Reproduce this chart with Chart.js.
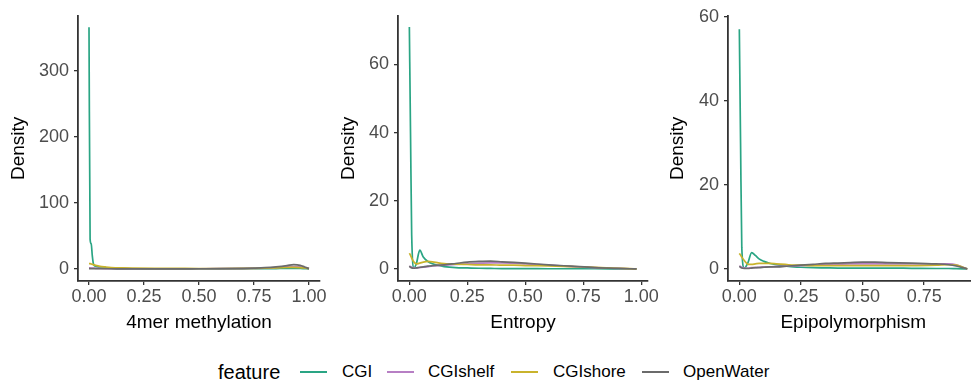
<!DOCTYPE html>
<html>
<head>
<meta charset="utf-8">
<script src="https://cdn.jsdelivr.net/npm/chart.js@4.4.1/dist/chart.umd.min.js"></script>
<style>
  html, body { margin: 0; padding: 0; background: #fff; width: 971px; height: 385px; overflow: hidden; position: relative; font-family: "Liberation Sans", Arial, sans-serif; }
  canvas { position: absolute; top: 0; }
  .lg { position: absolute; white-space: nowrap; color: #000; }
  .key { position: absolute; height: 2px; }
</style>
</head>
<body>
<canvas id="c1" width="330" height="340" style="left:0px"></canvas>
<canvas id="c2" width="330" height="340" style="left:330px"></canvas>
<canvas id="c3" width="340" height="340" style="left:650px"></canvas>
<div id="legend"></div>
<script>
// ---------- data ----------
const featureNames = ['CGI', 'CGIshelf', 'CGIshore', 'OpenWater'];
const featureColors = ['#2aa584', '#b77fc4', '#c9b32c', '#6b6b6b'];
const legendTitle = 'feature';

// Panel 1: 4mer methylation
const methX     = [0,0.005,0.01,0.015,0.02,0.03,0.05,0.075,0.1,0.15,0.2,0.3,0.4,0.5,0.6,0.7,0.75,0.8,0.85,0.9,0.93,0.96,0.98,1.0];
const methCGI   = [366,45,38,20,8,4,2.5,1.5,1,0.5,0.3,0.2,0.1,0.1,0.1,0.2,0.3,0.4,0.6,0.8,0.9,0.8,0.5,0.2];
const methShelf = [1.5,1.5,1.4,1.3,1.2,1.0,0.8,0.6,0.5,0.4,0.3,0.3,0.3,0.3,0.4,0.6,0.9,1.3,2.0,3.0,3.5,3.2,2.2,0.8];
const methShore = [8,8,7.5,7,6.5,5.5,4,3,2.2,1.5,1.2,0.9,0.8,0.7,0.7,0.8,1.0,1.3,1.7,2.2,2.4,2.0,1.4,0.5];
const methOW    = [0.5,0.5,0.5,0.5,0.5,0.4,0.3,0.3,0.3,0.2,0.2,0.2,0.2,0.3,0.4,0.8,1.3,2.0,3.2,5.0,6.5,5.5,3.0,0.5];

// Panel 2: Entropy
const entX     = [0,0.005,0.01,0.02,0.03,0.045,0.06,0.08,0.1,0.125,0.15,0.2,0.25,0.3,0.35,0.4,0.45,0.5,0.6,0.7,0.8,0.9,0.95,0.98];
const entCGI   = [71,40,10,0.3,1.5,5.5,3.5,2.2,1.5,1.0,0.7,0.4,0.3,0.2,0.15,0.1,0.1,0.1,0.05,0.05,0.05,0.02,0.01,0];
const entShelf = [0.8,0.7,0.5,0.3,0.3,0.4,0.5,0.7,0.9,1.0,1.1,1.3,1.5,1.7,1.8,1.8,1.7,1.5,1.1,0.7,0.4,0.15,0.05,0];
const entShore = [4.6,4.0,3.2,2.0,1.5,1.7,2.0,2.2,2.1,1.8,1.6,1.4,1.3,1.2,1.2,1.1,1.1,1.0,0.9,0.7,0.5,0.2,0.1,0];
const entOW    = [0.8,0.5,0.3,0.2,0.3,0.5,0.6,0.8,1.0,1.1,1.2,1.6,2.0,2.2,2.3,2.1,1.9,1.7,1.2,0.8,0.4,0.15,0.05,0];

// Panel 3: Epipolymorphism
const epiX     = [0,0.005,0.01,0.02,0.035,0.05,0.065,0.08,0.1,0.125,0.15,0.2,0.25,0.3,0.35,0.4,0.45,0.5,0.55,0.6,0.7,0.8,0.85,0.88,0.925];
const epiCGI   = [57,30,5,0.2,1.5,3.9,3.2,2.4,1.8,1.3,1.0,0.6,0.4,0.3,0.25,0.2,0.2,0.2,0.2,0.2,0.15,0.1,0.1,0.05,0];
const epiShelf = [0.7,0.6,0.4,0.2,0.2,0.3,0.3,0.4,0.5,0.5,0.6,0.7,0.8,0.9,1.0,1.1,1.2,1.2,1.2,1.2,1.2,1.2,1.2,1.0,0];
const epiShore = [3.7,3.3,2.8,2.0,1.1,1.1,1.2,1.3,1.3,1.3,1.2,1.0,0.9,0.8,0.8,0.8,0.8,0.8,0.8,0.8,0.8,0.9,1.0,0.9,0];
const epiOW    = [0.6,0.4,0.2,0.1,0.1,0.2,0.3,0.3,0.4,0.5,0.5,0.7,0.9,1.1,1.3,1.4,1.5,1.6,1.6,1.5,1.4,1.2,1.0,0.7,0];

// tick labels
const xTicksFull = [0, 0.25, 0.5, 0.75, 1.0];
const xTicksEpi  = [0, 0.25, 0.5, 0.75];
const yTicksMeth = [0, 100, 200, 300];
const yTicksEnt  = [0, 20, 40, 60];
const yTicksEpi  = [0, 20, 40, 60];
const xTitles = ['4mer methylation', 'Entropy', 'Epipolymorphism'];
const yTitle = 'Density';

// ---------- drawing ----------
const FONT = '"Liberation Sans", Arial, sans-serif';
const AXIS_COLOR = '#333333';
const drawOrder = [3, 2, 1, 0]; // later features drawn on top (like ggplot)

function makePanel(id, xs, seriesList, cfg) {
  const datasets = seriesList.map((ys, i) => ({
    label: featureNames[i],
    data: xs.map((x, j) => ({ x: x, y: ys[j] })),
    borderColor: featureColors[i],
    backgroundColor: featureColors[i],
    borderWidth: 1.7,
    pointRadius: 0,
    fill: false,
    cubicInterpolationMode: 'monotone',
    order: drawOrder[i]
  }));
  return new Chart(document.getElementById(id), {
    type: 'line',
    data: { datasets },
    options: {
      responsive: false,
      animation: false,
      devicePixelRatio: 1,
      layout: { padding: { top: 15, right: cfg.padRight, left: 0, bottom: 0 } },
      plugins: { legend: { display: false }, tooltip: { enabled: false } },
      scales: {
        x: {
          type: 'linear',
          min: cfg.xMin, max: cfg.xMax,
          afterBuildTicks: s => { s.ticks = cfg.xTicks.map(v => ({ value: v })); },
          afterFit: s => { s.height = 59; },
          ticks: {
            callback: v => Number(v).toFixed(2),
            font: { family: FONT, size: 18 }, color: '#4d4d4d',
            padding: 1, maxRotation: 0, autoSkip: false
          },
          grid: { display: true, drawOnChartArea: false, drawTicks: true, tickLength: 4, color: AXIS_COLOR, lineWidth: 1.3 },
          border: { display: true, color: AXIS_COLOR, width: 1.8 },
          title: { display: true, text: cfg.xTitle, color: '#000', font: { family: FONT, size: 19 }, padding: { top: 0, bottom: 5.6 } }
        },
        y: {
          type: 'linear',
          min: cfg.yMin, max: cfg.yMax,
          afterBuildTicks: s => { s.ticks = cfg.yTicks.map(v => ({ value: v })); },
          afterFit: s => { s.width = cfg.yWidth; },
          ticks: {
            callback: v => String(v),
            font: { family: FONT, size: 18 }, color: '#4d4d4d',
            padding: 5, autoSkip: false
          },
          grid: { display: true, drawOnChartArea: false, drawTicks: true, tickLength: 4, color: AXIS_COLOR, lineWidth: 1.3 },
          border: { display: true, color: AXIS_COLOR, width: 1.8 },
          title: { display: true, text: yTitle, color: '#000', font: { family: FONT, size: 19 }, padding: { top: cfg.yTitlePad, bottom: 0 } }
        }
      }
    }
  });
}

makePanel('c1', methX, [methCGI, methShelf, methShore, methOW], {
  xMin: -0.05, xMax: 1.05, yMin: -18.25, yMax: 383.25,
  xTicks: xTicksFull, yTicks: yTicksMeth, xTitle: xTitles[0],
  yWidth: 78, yTitlePad: 7.6, padRight: 10
});
makePanel('c2', entX, [entCGI, entShelf, entShore, entOW], {
  xMin: -0.049, xMax: 1.029, yMin: -3.54, yMax: 74.3,
  xTicks: xTicksFull, yTicks: yTicksEnt, xTitle: xTitles[1],
  yWidth: 68, yTitlePad: 7.6, padRight: 10
});
makePanel('c3', epiX, [epiCGI, epiShelf, epiShore, epiOW], {
  xMin: -0.046, xMax: 0.971, yMin: -2.87, yMax: 60.2,
  xTicks: xTicksEpi, yTicks: yTicksEpi, xTitle: xTitles[2],
  yWidth: 78, yTitlePad: 16.6, padRight: 11.4
});

// ---------- legend ----------
(function buildLegend() {
  const lg = document.getElementById('legend');
  const cy = 372;
  const title = document.createElement('div');
  title.className = 'lg';
  title.textContent = legendTitle;
  title.style.cssText = 'left:218px;top:' + (cy - 12) + 'px;font-size:20px;line-height:24px;';
  lg.appendChild(title);
  const keyLeft = [300, 387, 511, 642];
  const textLeft = [342, 428, 553, 683];
  featureNames.forEach((name, i) => {
    const k = document.createElement('div');
    k.className = 'key';
    k.style.cssText = 'left:' + keyLeft[i] + 'px;top:' + (cy - 1) + 'px;width:27px;background:' + featureColors[i] + ';';
    lg.appendChild(k);
    const t = document.createElement('div');
    t.className = 'lg';
    t.textContent = name;
    t.style.cssText = 'left:' + textLeft[i] + 'px;top:' + (cy - 10) + 'px;font-size:17px;line-height:20px;';
    lg.appendChild(t);
  });
})();
</script>
</body>
</html>
